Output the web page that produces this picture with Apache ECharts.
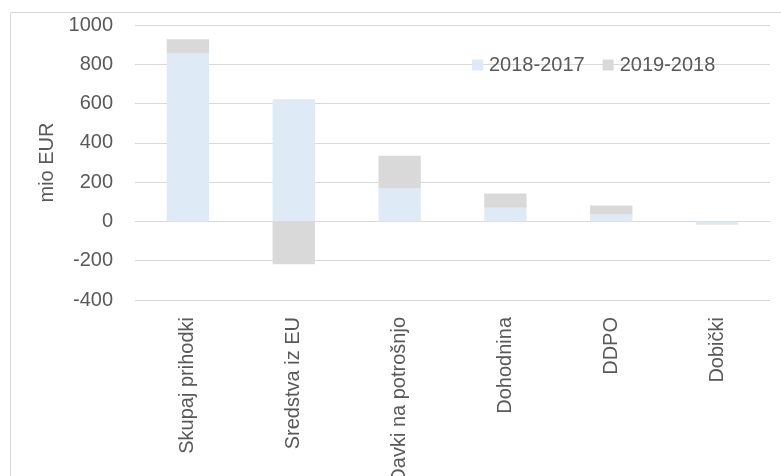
<!DOCTYPE html>
<html><head><meta charset="utf-8">
<script src="https://cdn.jsdelivr.net/npm/echarts@6/dist/echarts.min.js"></script>
<style>html,body{margin:0;padding:0;background:#fff}#c{width:781px;height:476px}</style>
</head><body><div id="c"></div>
<script>
const categories = ['Skupaj prihodki','Sredstva iz EU','Davki na potrošnjo','Dohodnina','DDPO','Dobički'];
const s2018 = [855, 622, 168, 70, 35, -10];
const s2019 = [73, -218, 166, 72, 46, -5];
const seriesNames = ['2018-2017','2019-2018'];
const yTicks = {min:-400, max:1000, interval:200};

const FONT = '"Liberation Sans", Arial, sans-serif';
const FS = 20;
const TXT = '#595959';
const chart = echarts.init(document.getElementById('c'));
chart.setOption({
  animation:false,
  backgroundColor:'#fff',
  graphic:[{type:'rect', shape:{x:10.5,y:12.5,width:800,height:500}, style:{fill:'none', stroke:'#d9d9d9', lineWidth:1}, silent:true}],
  grid:{left:135, right:11, top:25, bottom:176, containLabel:false, outerBoundsMode:'none'},
  legend:{
    left:467, top:49, itemWidth:11, itemHeight:11, itemGap:18,
    icon:'rect',
    textStyle:{fontFamily:FONT, fontSize:FS, color:TXT, lineHeight:22, padding:[0,0,0,1]},
    data:seriesNames
  },
  xAxis:{
    type:'category', data:categories,
    axisLine:{lineStyle:{color:'#d9d9d9', width:1}},
    axisTick:{show:false},
    axisLabel:{rotate:90, margin:17, fontFamily:FONT, fontSize:FS, color:TXT, interval:0}
  },
  yAxis:{
    type:'value', min:yTicks.min, max:yTicks.max, interval:yTicks.interval,
    name:'mio EUR', nameLocation:'middle', nameRotate:90, nameGap:74,
    nameTextStyle:{fontFamily:FONT, fontSize:FS, color:TXT},
    axisLine:{show:false}, axisTick:{show:false},
    axisLabel:{margin:22, fontFamily:FONT, fontSize:FS, color:TXT, formatter:v => String(v)},
    splitLine:{lineStyle:{color:'#d9d9d9', width:1}}
  },
  series:[
    {name:seriesNames[0], type:'bar', stack:'a', data:s2018, barCategoryGap:'60%', itemStyle:{color:'#deeaf6'}},
    {name:seriesNames[1], type:'bar', stack:'a', data:s2019, barCategoryGap:'60%', itemStyle:{color:'#d9d9d9'}}
  ]
});
</script></body></html>
